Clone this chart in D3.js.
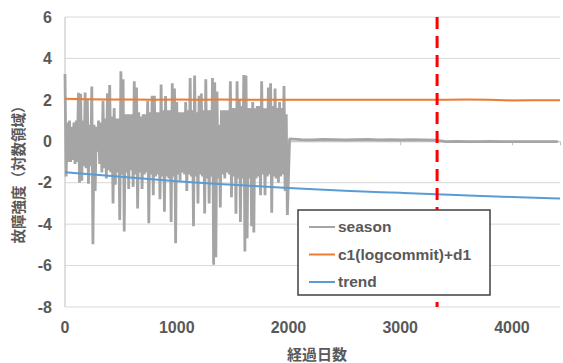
<!DOCTYPE html>
<html>
<head>
<meta charset="utf-8">
<script src="https://cdn.jsdelivr.net/npm/d3@7"></script>
<style>
  body { margin: 0; background: #fff; }
  text { font-family: "Liberation Sans", "Noto Sans CJK JP", sans-serif; }
</style>
</head>
<body>
<div id="chart"></div>
<script>
// season (gray): noisy part, sampled every 20 days, upper and lower swings
const seasonStep = 20;
const seasonHi = [
  3.25, 0.9, 1.0, 0.7, 0.9, 1.0, 2.34, 2.3, 1.0, 2.35,
  2.0, 0.8, 2.64, 0.8, 0.7, 1.0, 0.9, 1.95, 1.1, 2.32,
  2.72, 1.2, 1.6, 1.1, 1.1, 3.38, 3.0, 1.3, 1.3, 1.3,
  1.3, 2.9, 2.6, 1.4, 1.2, 1.3, 1.3, 1.95, 1.4, 2.2,
  2.2, 1.4, 1.4, 2.74, 1.5, 2.18, 1.5, 1.5, 2.8, 2.55,
  1.9, 1.4, 1.4, 1.4, 1.9, 1.5, 3.06, 1.5, 3.17, 1.4,
  2.2, 2.3, 1.5, 3.0, 1.5, 1.5, 3.06, 2.85, 2.4, 0.8,
  1.5, 1.5, 1.5, 1.5, 2.9, 1.6, 1.6, 2.9, 2.0, 1.7,
  3.2, 3.18, 1.6, 1.6, 1.9, 1.6, 1.7, 1.7, 2.9, 1.6,
  1.6, 2.6, 2.8, 1.7, 2.55, 1.6, 1.9, 1.6, 2.67, 1.3
];
const seasonLo = [
  -1.7, -1.0, -1.0, -0.9, -1.1, -1.0, -2.0, -1.9, -1.2, -1.3,
  -2.05, -1.2, -4.97, -2.4, -0.5, -1.1, -1.5, -1.3, -1.8, -1.4,
  -1.5, -3.0, -2.1, -1.5, -3.8, -1.6, -4.36, -1.5, -2.3, -1.4,
  -2.2, -1.6, -3.24, -1.5, -2.3, -1.6, -1.5, -3.96, -1.6, -2.6,
  -1.7, -1.6, -2.8, -1.7, -3.4, -1.7, -1.8, -3.9, -1.7, -4.92,
  -1.6, -1.9, -1.5, -1.6, -2.4, -1.6, -1.7, -4.1, -1.7, -3.0,
  -1.6, -1.7, -3.48, -1.8, -3.0, -1.7, -5.96, -5.6, -1.8, -3.2,
  -1.6, -1.8, -1.5, -1.6, -2.7, -1.7, -3.5, -1.8, -3.9, -1.8,
  -5.32, -4.68, -1.8, -4.1, -4.4, -1.8, -1.7, -2.6, -1.6, -2.6,
  -1.7, -1.6, -3.45, -1.7, -1.8, -2.0, -1.7, -1.6, -2.4, -3.56
];
// season after day 2000 (every 100 days)
const tailStart = 2010;
const tailStep = 100;
const seasonTail = [
  0.12, 0.08, 0.07, 0.09, 0.08, 0.07, 0.08, 0.09, 0.07, 0.08,
  0.07, 0.08, 0.07, 0.06, -0.02, -0.01, -0.02, -0.02, -0.01, -0.02,
  -0.02, -0.02, -0.02, -0.02, -0.02
];

// c1(logcommit)+d1 (orange), every 200 days
const fitStep = 200;
const fitVals = [
  2.05, 2.03, 2.02, 2.02, 2.01, 2.02, 2.01, 2.02, 2.01, 2.01,
  2.01, 2.01, 2.0, 2.0, 2.0, 2.0, 2.01, 2.01, 2.02, 2.01,
  1.97, 1.98, 1.98
];

// trend (blue)
const trendDays = [0, 500, 1000, 1500, 2000, 2500, 3000, 3500, 4000, 4430];
const trendVals = [-1.50, -1.71, -1.93, -2.10, -2.26, -2.39, -2.49, -2.59, -2.69, -2.76];

const lastDay = 4430;
const changeDay = 3330;

const yTicks = [-8, -6, -4, -2, 0, 2, 4, 6];
const xTicks = [0, 1000, 2000, 3000, 4000];
const legendNames = ['season', 'c1(logcommit)+d1', 'trend'];
const colors = ['#A5A5A5', '#ED7D31', '#5B9BD5'];

const W = 563, H = 363;
const margin = { top: 17, right: 3, bottom: 56, left: 65 };

const svg = d3.select('#chart').append('svg')
  .attr('width', W)
  .attr('height', H);

const x = d3.scaleLinear().domain([0, lastDay]).range([margin.left, W - margin.right]);
const y = d3.scaleLinear().domain([-8, 6]).range([H - margin.bottom, margin.top]);

// gridlines
svg.append('g')
  .selectAll('line')
  .data(yTicks)
  .enter()
  .append('line')
  .attr('x1', x(0))
  .attr('x2', x(lastDay))
  .attr('y1', d => y(d))
  .attr('y2', d => y(d))
  .attr('stroke', '#D9D9D9')
  .attr('stroke-width', 1);

// left axis line
svg.append('line')
  .attr('x1', x(0)).attr('x2', x(0))
  .attr('y1', y(6)).attr('y2', y(-8))
  .attr('stroke', '#BFBFBF');

// horizontal axis through zero, with tick marks
const xAxis = d3.axisBottom(x).tickValues(xTicks).tickSize(4).tickFormat('');
const xg = svg.append('g')
  .attr('transform', `translate(0,${y(0)})`)
  .call(xAxis);
xg.select('.domain').attr('stroke', '#BFBFBF');
xg.selectAll('.tick line').attr('stroke', '#BFBFBF');

// tick labels
svg.append('g')
  .selectAll('text')
  .data(yTicks)
  .enter()
  .append('text')
  .attr('x', 52)
  .attr('y', d => y(d))
  .attr('dy', '0.36em')
  .attr('text-anchor', 'end')
  .attr('fill', '#595959')
  .style('font-size', '16px')
  .style('font-weight', 'bold')
  .text(d => d);

svg.append('g')
  .selectAll('text')
  .data(xTicks)
  .enter()
  .append('text')
  .attr('x', d => x(d))
  .attr('y', 333)
  .attr('text-anchor', 'middle')
  .attr('fill', '#595959')
  .style('font-size', '16px')
  .style('font-weight', 'bold')
  .text(d => d);

// series data
const seasonPts = [];
seasonHi.forEach((v, i) => {
  seasonPts.push([i * seasonStep, v]);
  seasonPts.push([i * seasonStep + seasonStep / 2, seasonLo[i]]);
});
seasonTail.forEach((v, i) => {
  seasonPts.push([Math.min(tailStart + i * tailStep, lastDay), v]);
});
const fitPts = fitVals.map((v, i) => [Math.min(i * fitStep, lastDay), v]);
fitPts[fitPts.length - 1][0] = lastDay;
const trendPts = trendDays.map((d, i) => [d, trendVals[i]]);

const line = d3.line().x(d => x(d[0])).y(d => y(d[1]));

svg.append('path')
  .datum(seasonPts)
  .attr('d', line)
  .attr('fill', 'none')
  .attr('stroke', colors[0])
  .attr('stroke-width', 2.8)
  .attr('stroke-linejoin', 'bevel');

svg.append('path')
  .datum(fitPts)
  .attr('d', line.curve(d3.curveLinear))
  .attr('fill', 'none')
  .attr('stroke', colors[1])
  .attr('stroke-width', 2);

svg.append('path')
  .datum(trendPts)
  .attr('d', line.curve(d3.curveMonotoneX))
  .attr('fill', 'none')
  .attr('stroke', colors[2])
  .attr('stroke-width', 2);

// change point
svg.append('line')
  .attr('x1', x(changeDay)).attr('x2', x(changeDay))
  .attr('y1', y(6)).attr('y2', y(-8))
  .attr('stroke', '#FF0000')
  .attr('stroke-width', 3)
  .attr('stroke-dasharray', '12,7');

// legend
const legend = svg.append('g').attr('transform', 'translate(298,210)');
legend.append('rect')
  .attr('width', 192)
  .attr('height', 85)
  .attr('fill', '#fff')
  .attr('stroke', '#404040')
  .attr('stroke-width', 1.5);
legendNames.forEach((name, i) => {
  const ly = 17 + i * 27.5;
  legend.append('line')
    .attr('x1', 11).attr('x2', 37)
    .attr('y1', ly).attr('y2', ly)
    .attr('stroke', colors[i])
    .attr('stroke-width', 2);
  legend.append('text')
    .attr('x', 40)
    .attr('y', ly)
    .attr('dy', '0.35em')
    .attr('fill', '#595959')
    .style('font-size', '15.5px')
    .style('font-weight', 'bold')
    .text(name);
});

// axis titles
svg.append('text')
  .attr('x', 317)
  .attr('y', 360)
  .attr('text-anchor', 'middle')
  .attr('fill', '#595959')
  .style('font-family', '"Noto Sans CJK JP", sans-serif')
  .style('font-size', '15px')
  .style('font-weight', 'bold')
  .text('経過日数');

svg.append('text')
  .attr('transform', 'translate(24,171) rotate(-90)')
  .attr('text-anchor', 'middle')
  .attr('fill', '#595959')
  .style('font-family', '"Noto Sans CJK JP", sans-serif')
  .style('font-size', '14.5px')
  .style('font-weight', 'bold')
  .text('故障強度（対数領域）');
</script>
</body>
</html>
